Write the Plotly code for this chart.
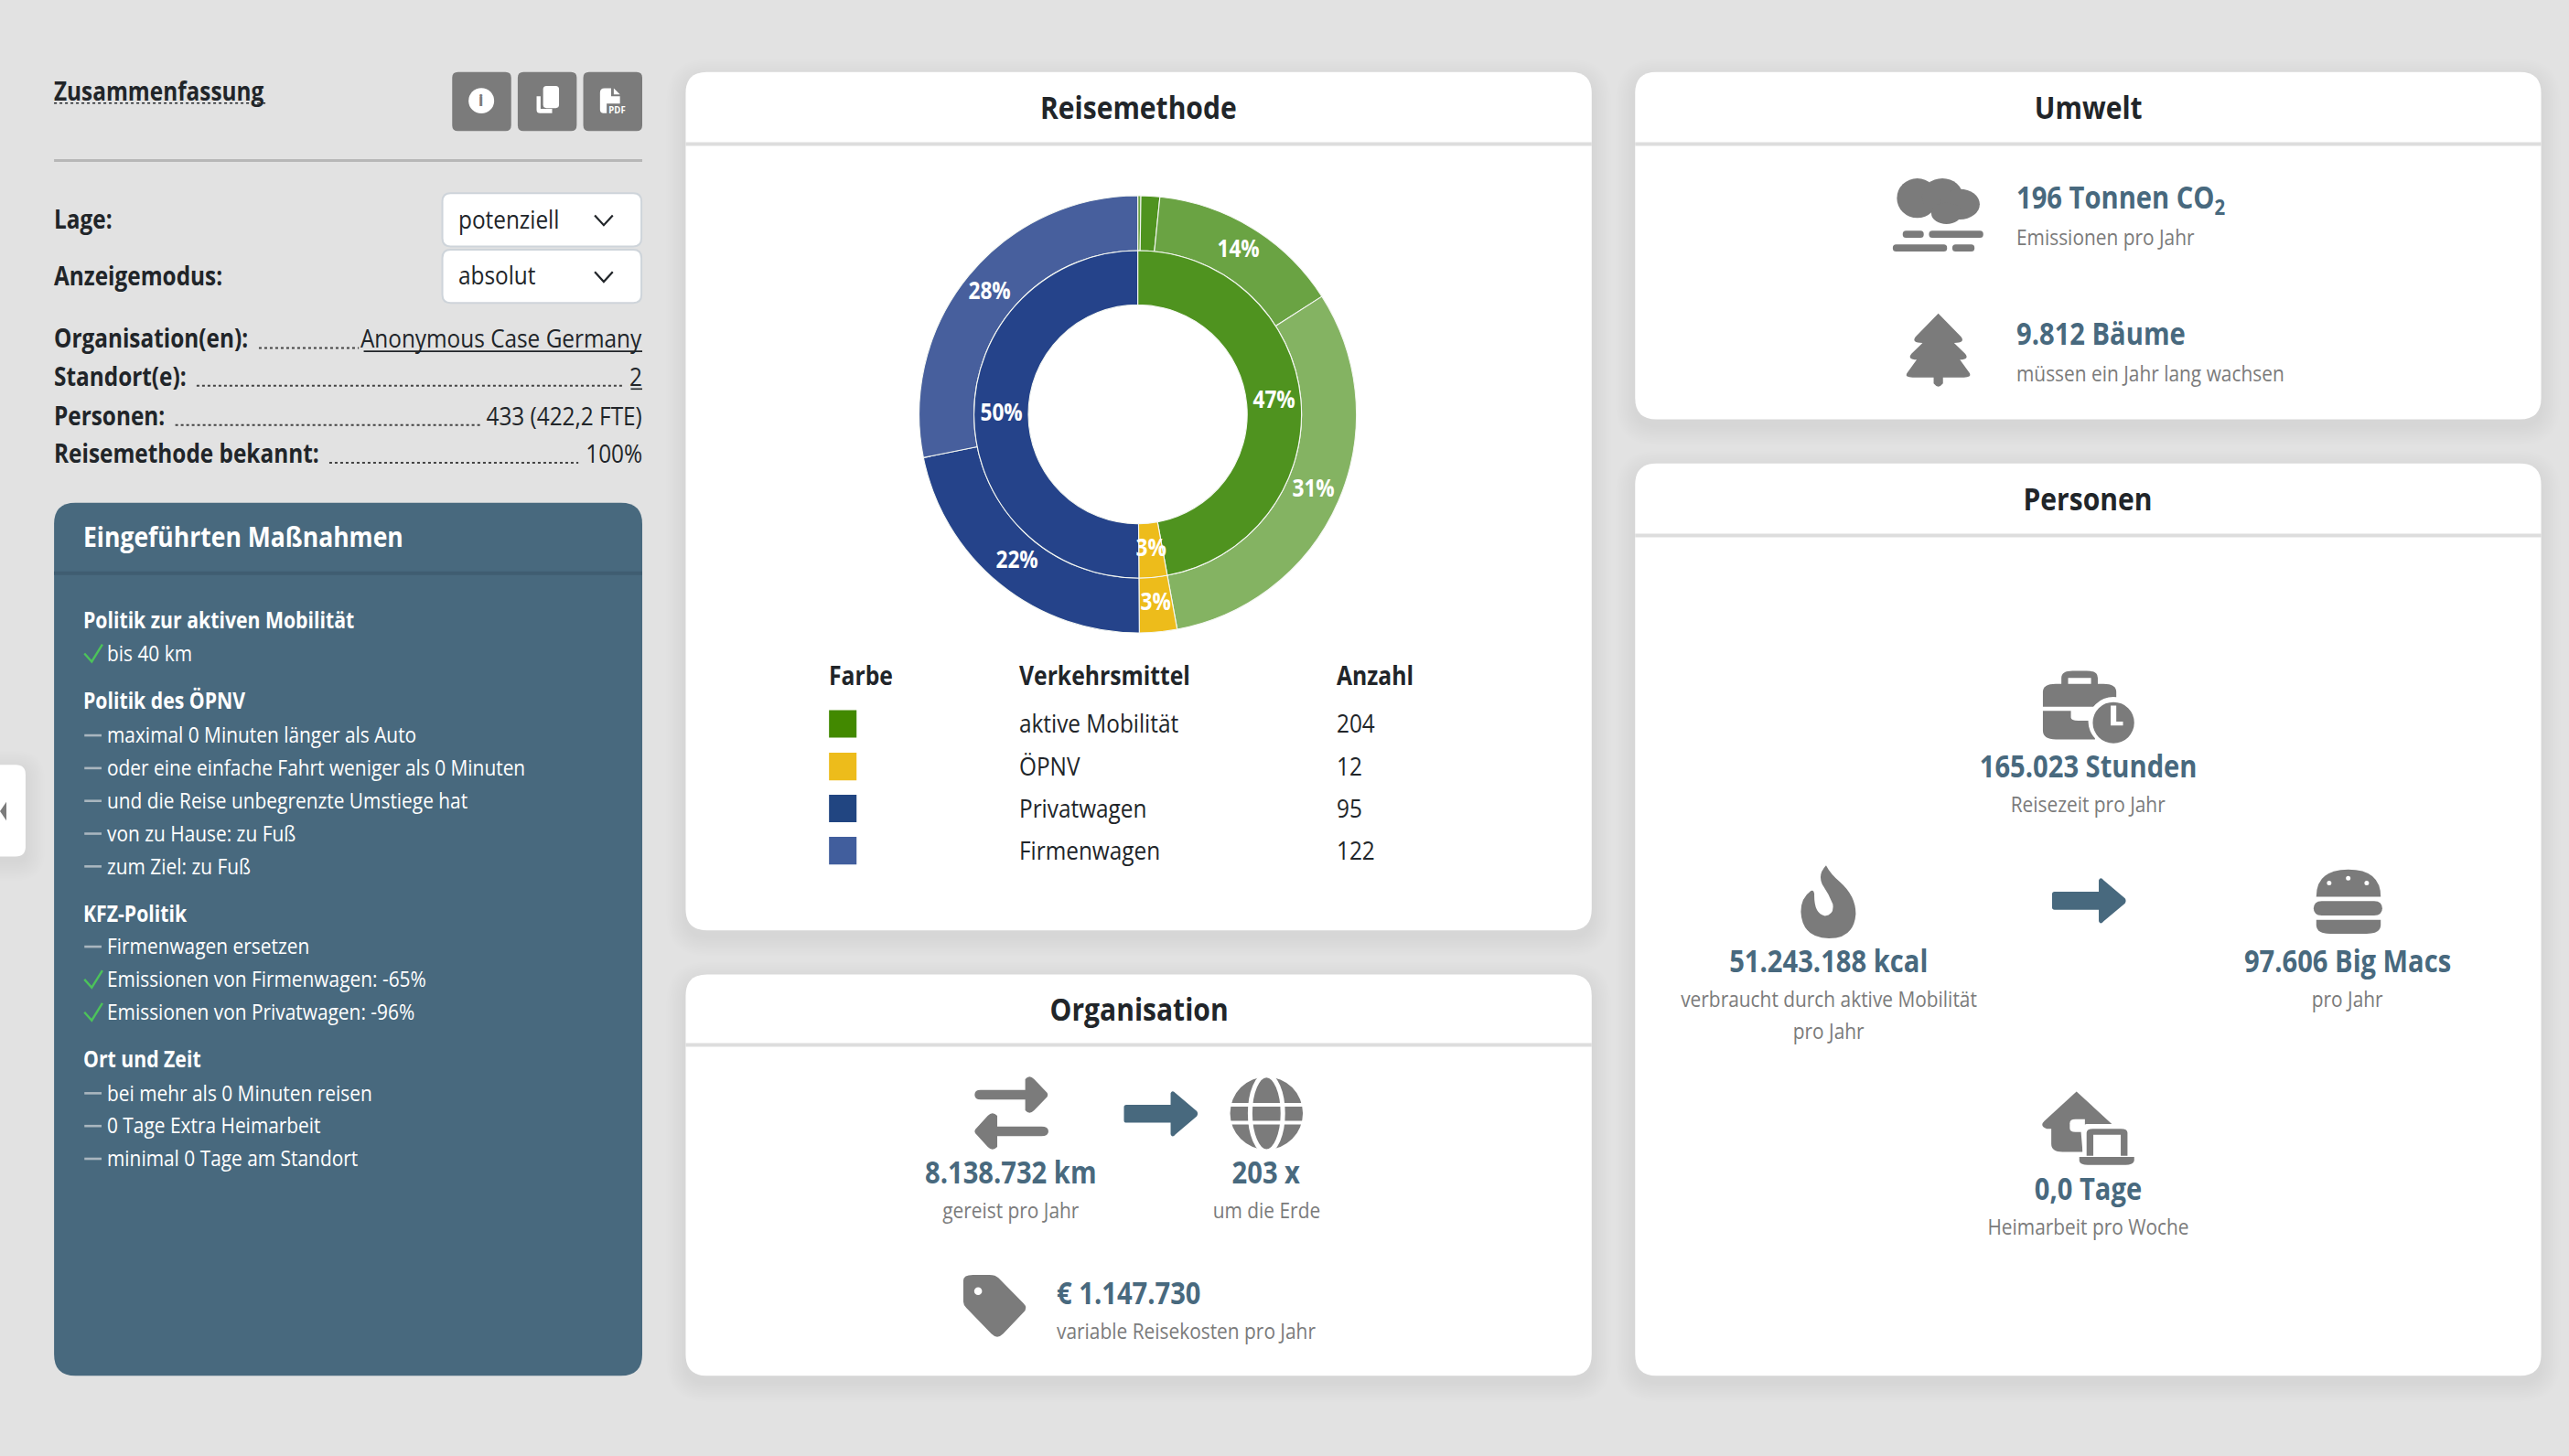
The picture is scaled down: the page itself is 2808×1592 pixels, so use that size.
import math
import re
import plotly.graph_objects as go

# chart values
modes = ["aktive Mobilität", "ÖPNV", "Privatwagen", "Firmenwagen"]
mode_counts = [204, 12, 95, 122]
mode_colors = ["#428900", "#edbc1b", "#214581", "#415e9d"]

inner_values = [204, 12, 217]
inner_colors = ["#4f931f", "#edbc1b", "#25438a"]
outer_values = [1, 6, 62, 135, 12, 95, 122]
outer_colors = ["#6aa343", "#4f931f", "#6aa343", "#84b362", "#edbc1b", "#25438a", "#475f9d"]

info_labels = ["Organisation(en):", "Standort(e):", "Personen:", "Reisemethode bekannt:"]
info_values = ["Anonymous Case Germany", "2", "433 (422,2 FTE)", "100%"]

panel_items = [
    ("h", "Politik zur aktiven Mobilität"), ("c", "bis 40 km"),
    ("h", "Politik des ÖPNV"), ("d", "maximal 0 Minuten länger als Auto"),
    ("d", "oder eine einfache Fahrt weniger als 0 Minuten"),
    ("d", "und die Reise unbegrenzte Umstiege hat"), ("d", "von zu Hause: zu Fuß"), ("d", "zum Ziel: zu Fuß"),
    ("h", "KFZ-Politik"), ("d", "Firmenwagen ersetzen"),
    ("c", "Emissionen von Firmenwagen: -65%"), ("c", "Emissionen von Privatwagen: -96%"),
    ("h", "Ort und Zeit"), ("d", "bei mehr als 0 Minuten reisen"),
    ("d", "0 Tage Extra Heimarbeit"), ("d", "minimal 0 Tage am Standort"),
]

W, H = 2808, 1592
S = W / 1568  # layout below is measured on the 1568 wide view
FONT = "Open Sans"
DARK = "#212529"
TEAL = "#48697e"
GREY = "#7b7b7b"
BG = "#e2e2e2"

shapes = []
notes = []


def px(x):
    return round(x * S / W, 6)


def py(y):
    return round(1 - y * S / H, 6)


def to_paper(path):
    return re.sub(r"(-?\d+\.?\d*),(-?\d+\.?\d*)",
                  lambda m: f"{px(float(m[1]))},{py(float(m[2]))}", path)


def from_zoom(path, ox, oy, sx, sy):
    # icon outlines were traced on zoomed crops
    return re.sub(r"(-?\d+\.?\d*),(-?\d+\.?\d*)",
                  lambda m: f"{(ox + float(m[1]) / sx) / S:.3f},{(oy + float(m[2]) / sy) / S:.3f}", path)


def add_path(path, fill=GREY, line=None, width=0, opacity=1):
    shapes.append(dict(type="path", xref="paper", yref="paper", path=to_paper(path),
                       fillcolor=fill, opacity=opacity,
                       line=dict(color=line or "rgba(0,0,0,0)", width=width), layer="below"))


def rr(x0, y0, x1, y1, r):
    return (f"M{x0 + r},{y0} L{x1 - r},{y0} Q{x1},{y0} {x1},{y0 + r} L{x1},{y1 - r} Q{x1},{y1} {x1 - r},{y1} "
            f"L{x0 + r},{y1} Q{x0},{y1} {x0},{y1 - r} L{x0},{y0 + r} Q{x0},{y0} {x0 + r},{y0} Z")


def box(x0, y0, x1, y1, r=0, fill=GREY, line=None, width=0):
    add_path(rr(x0, y0, x1, y1, r), fill, line, width)


def oval(cx, cy, rx, ry=None, fill=GREY):
    ry = ry or rx
    shapes.append(dict(type="circle", xref="paper", yref="paper", x0=px(cx - rx), x1=px(cx + rx),
                       y0=py(cy + ry), y1=py(cy - ry), fillcolor=fill, line=dict(width=0), layer="below"))


def stroke(x0, y0, x1, y1, color, width=2, dash="solid"):
    shapes.append(dict(type="line", xref="paper", yref="paper", x0=px(x0), x1=px(x1), y0=py(y0), y1=py(y1),
                       line=dict(color=color, width=width, dash=dash), layer="below"))


def text(x, y, s, size=24, color=DARK, weight=400, anchor="left"):
    notes.append(dict(x=px(x), y=py(y - 0.7), xref="paper", yref="paper", text=s, showarrow=False, xanchor=anchor,
                      yanchor="middle", borderpad=0, borderwidth=0,
                      font=dict(family=FONT, size=size, color=color, weight=weight)))


def card(x0, y0, x1, y1, title, head_y):
    for i in range(12, 0, -1):
        add_path(rr(x0 - i, y0 - i + 4, x1 + i, y1 + i + 4, 13 + i), "#000000", opacity=0.0045)
    box(x0, y0, x1, y1, 13, "#ffffff")
    stroke(x0, head_y, x1, head_y, "#dddddd", 4)
    text((x0 + x1) / 2, (y0 + head_y) / 2, title, 34.5, DARK, 700, "center")


def arrow(cx, cy):
    add_path(f"M{cx - 22.5},{cy - 4} Q{cx - 22.5},{cy - 5.5} {cx - 21},{cy - 5.5} L{cx + 6},{cy - 5.5} "
             f"L{cx + 6},{cy - 12.5} Q{cx + 7},{cy - 15} {cx + 9},{cy - 12.5} L{cx + 22},{cy - 1.5} "
             f"Q{cx + 23},{cy} {cx + 22},{cy + 1.5} L{cx + 9},{cy + 12.5} Q{cx + 7},{cy + 15} {cx + 6},{cy + 12.5} "
             f"L{cx + 6},{cy + 5.5} L{cx - 21},{cy + 5.5} Q{cx - 22.5},{cy + 5.5} {cx - 22.5},{cy + 4} Z", TEAL)


def stat(x, y_val, y_sub, value, sub, anchor="center"):
    text(x, y_val, value, 33.5, TEAL, 700, anchor)
    text(x, y_sub, sub, 24, GREY, 400, anchor)


# side tab
for i in range(12, 0, -1):
    add_path(rr(-20, 467 - i + 3, 15.6 + i, 523 + i + 3, 6 + i), "#000000", opacity=0.0045)
box(-20, 467, 15.6, 523, 6, "#ffffff")
add_path("M0,495.3 L3.9,489.6 L3.9,501 Z")

# left column
text(33, 56, "Zusammenfassung", 28, DARK, 700)
stroke(33, 63, 162, 63, DARK, 1.5, "dot")
for x0 in (276, 316, 356):
    box(x0, 44, x0 + 36, 80, 3.5)
zoom1 = (0, 40, 2.063, 2.529)
oval(293.8, 61.5, 7.8, fill="#ffffff")
text(293.8, 62, "i", 17, GREY, 800, "center")
box(331.5, 52.5, 341.2, 66, 2, "#ffffff")
add_path(from_zoom("M1210,165 L1219,165 L1219,200 L1245,200 L1245,212 L1218,212 Q1210,212 1210,203 Z", *zoom1), "#ffffff")
add_path(from_zoom("M1353,155 Q1353,143 1363,143 L1378,143 L1378,165 L1398,165 L1398,185 L1368,185 L1368,212 "
                   "L1361,212 Q1353,212 1353,202 Z", *zoom1), "#ffffff")
add_path(from_zoom("M1384,143 L1398,160 L1384,160 Z", *zoom1), "#ffffff")
text(376.4, 67.7, "PDF", 11, "#ffffff", 700, "center")
stroke(33, 98, 392, 98, "#b7b7b7", 3)

text(33, 134, "Lage:", 28, DARK, 700)
text(33, 169, "Anzeigemodus:", 28, DARK, 700)
for y0, val in ((118, "potenziell"), (152.5, "absolut")):
    box(270, y0, 391.5, y0 + 32.5, 5, "#ffffff", "#ced4da", 2)
    text(279.5, y0 + 16, val, 28, DARK, 400)
    cx, cy = 368.5, y0 + 16.5
    add_path(f"M{cx - 5.5},{cy - 3} L{cx},{cy + 3} L{cx + 5.5},{cy - 3}", "rgba(0,0,0,0)", DARK, 2.2)

row_y = [207, 230, 254, 277]
dots_x = [(158, 219), (120, 381), (107, 293), (201, 353)]
for lab, val, y, (d0, d1) in zip(info_labels, info_values, row_y, dots_x):
    text(33, y, lab, 28, DARK, 700)
    text(392, y, val, 28, DARK, 400, "right")
    stroke(d0, y + 5.5, d1, y + 5.5, "#444444", 2, "dot")
stroke(222, 214.5, 392, 214.5, DARK, 1.6)
stroke(385, 237.5, 392, 237.5, DARK, 1.6)

# measures panel
box(33, 307, 392, 840, 13, TEAL)
stroke(33, 350, 392, 350, "#3f5d71", 4)
text(51, 328, "Eingeführten Maßnahmen", 30.5, "#ffffff", 700)
panel_y = [379, 399, 428, 449, 469, 489, 509, 529, 558, 578, 598, 618, 647, 667.5, 687.5, 707.5]
for (kind, label), y in zip(panel_items, panel_y):
    if kind == "h":
        text(51, y, label, 24.4, "#ffffff", 700)
        continue
    text(65.5, y, label, 24, "#ffffff", 400)
    if kind == "c":
        add_path(f"M51.5,{y} L56,{y + 5} L62.5,{y - 5.5}", "rgba(0,0,0,0)", "#4cc35a", 2.4)
    else:
        stroke(51.5, y, 62, y, "#a9b6bf", 2.6)

# Reisemethode card with the nested donut
card(418.5, 44, 971.5, 568, "Reisemethode", 88)
DCX, DCY = 1243.6, 453.0  # donut centre in page pixels
R_OUT, R_MID, R_HOLE = 239.0, 179.0, 119.6
total = sum(inner_values)


def domain(r):
    return dict(x=[(DCX - r) / W, (DCX + r) / W], y=[1 - (DCY + r) / H, 1 - (DCY - r) / H])


pie_line = dict(color="#f4f7f2", width=1.1)
traces = [
    go.Pie(values=outer_values, sort=False, direction="clockwise", rotation=0, hole=R_MID / R_OUT,
           domain=domain(R_OUT), marker=dict(colors=outer_colors, line=pie_line), textinfo="none", showlegend=False),
    go.Pie(values=inner_values, sort=False, direction="clockwise", rotation=0, hole=R_HOLE / R_MID,
           domain=domain(R_MID), marker=dict(colors=inner_colors, line=pie_line), textinfo="none", showlegend=False),
]
for values, radius in ((outer_values, (R_OUT + R_MID) / 2), (inner_values, (R_MID + R_HOLE) / 2)):
    done = 0
    for v in values:
        mid = (done + v / 2) / total * 2 * math.pi
        done += v
        if v / total < 0.02:
            continue
        text((DCX + radius * math.sin(mid)) / S, (DCY - radius * math.cos(mid)) / S - 1.4,
             f"{round(v / total * 100)}%", 26, "#ffffff", 700, "center")

text(506, 413, "Farbe", 28.4, DARK, 700)
text(622, 413, "Verkehrsmittel", 28.4, DARK, 700)
text(816, 413, "Anzahl", 28.4, DARK, 700)
legend_y = [442, 468, 493.6, 519.4]
for name, count, color, y in zip(modes, mode_counts, mode_colors, legend_y):
    box(506, y - 8.4, 522.8, y + 8.4, 0, color)
    text(622, y, name, 28, DARK, 400)
    text(816, y, str(count), 28, DARK, 400)

# Organisation card
card(418.5, 595, 971.5, 840, "Organisation", 638)
zoom3 = (740, 1060, 1.537, 3)
add_path(from_zoom("M510,395 L585,395 L585,360 Q592,343 600,360 L622,405 Q624,412 622,418 L600,462 Q592,478 585,462 "
                   "L585,427 L510,427 Q500,427 500,411 Q500,395 510,395 Z", *zoom3))
add_path(from_zoom("M612,515 L538,515 L538,480 Q530,463 522,480 L501,525 Q499,531 501,537 L522,582 Q530,598 538,582 "
                   "L538,547 L612,547 Q624,547 624,531 Q624,515 612,515 Z", *zoom3))
arrow(708.5, 680)
oval(773, 679.7, 22.2)
shapes.append(dict(type="circle", xref="paper", yref="paper", x0=px(773 - 10), x1=px(773 + 10), y0=py(703),
                   y1=py(656.5), fillcolor="rgba(0,0,0,0)", line=dict(color="#ffffff", width=5), layer="below"))
stroke(750, 674.5, 796, 674.5, "#ffffff", 4)
stroke(750, 685.5, 796, 685.5, "#ffffff", 4)
stat(617, 716, 739, "8.138.732 km", "gereist pro Jahr")
stat(773, 716, 739, "203 x", "um die Erde")
add_path(from_zoom("M481,1020 Q481,1002 497,1002 L525,1002 Q535,1002 540,1012 L582,1095 Q590,1110 582,1125 L548,1195 "
                   "Q538,1215 528,1195 L486,1110 Q481,1100 481,1090 Z", *zoom3))
oval(597, 788.3, 2.4, fill="#ffffff")
stat(645, 790, 813, "€ 1.147.730", "variable Reisekosten pro Jahr", "left")

# Umwelt card
card(998, 44, 1551, 256, "Umwelt", 88)
zoom4 = (1780, 70, 1.568, 3)
for cx, cy, rx, ry in ((495, 440, 35, 65), (538, 435, 35, 60), (568, 460, 34, 50), (545, 490, 26, 35)):
    oval((zoom4[0] + cx / zoom4[2]) / S, (zoom4[1] + cy / zoom4[3]) / S, rx / zoom4[2] / S, ry / zoom4[3] / S)
for zx0, zy0, zx1, zy1 in ((470, 547, 506, 570), (515, 547, 608, 570), (453, 592, 546, 615), (555, 592, 593, 615)):
    box((1780 + zx0 / 1.568) / S, (70 + zy0 / 3) / S, (1780 + zx1 / 1.568) / S, (70 + zy1 / 3) / S, 2)
add_path(from_zoom("M531,818 L570,895 Q578,915 558,915 L577,950 Q585,968 568,970 L585,1015 Q588,1028 575,1028 L539,1028 "
                   "L539,1048 Q531,1068 523,1048 L523,1028 L487,1028 Q473,1028 477,1015 L494,970 Q477,968 485,950 "
                   "L504,915 Q484,915 492,895 Z", *zoom4))
stat(1231, 122, 145, "196 Tonnen CO<sub>2</sub>", "Emissionen pro Jahr", "left")
stat(1231, 204, 228, "9.812 Bäume", "müssen ein Jahr lang wachsen", "left")

# Personen card
card(998, 283, 1551, 840, "Personen", 327)
zoom5 = (1800, 700, 1.633, 2.306)


def z5x(v):
    return (zoom5[0] + v / zoom5[2]) / S


def z5y(v):
    return (zoom5[1] + v / zoom5[3]) / S


add_path(from_zoom("M707,168 L707,130 Q707,110 730,110 L815,110 Q838,110 838,130 L838,168 Z", *zoom5))
add_path(from_zoom("M740,112 L740,95 Q740,77 760,77 L785,77 Q805,77 805,95 L805,112 L793,112 L793,95 L752,95 L752,112 Z", *zoom5))
add_path(from_zoom("M707,178 L757,178 L757,195 Q757,203 770,203 L800,203 L800,250 L730,250 Q707,250 707,228 Z", *zoom5))
oval(z5x(833), z5y(205), 45 / zoom5[2] / S, 62 / zoom5[3] / S, "#ffffff")
oval(z5x(833), z5y(208), 37 / zoom5[2] / S, 52 / zoom5[3] / S)
add_path(from_zoom("M828,165 L838,165 L838,205 L850,205 L850,215 L828,215 Z", *zoom5), "#ffffff")
stat(1274.5, 468, 491, "165.023 Stunden", "Reisezeit pro Jahr")

add_path(from_zoom("M320,568 Q328,590 345,610 Q373,645 373,690 Q370,752 325,752 Q277,750 275,685 Q275,650 293,632 "
                   "Q298,628 299,640 Q298,690 318,695 Q335,692 332,665 Q325,640 313,615 Q305,590 320,568 Z", *zoom5))
stat(1116, 587, 610, "51.243.188 kcal", "verbraucht durch aktive Mobilität")
text(1116, 630, "pro Jahr", 24, GREY, 400, "center")

arrow(1275, 550)

add_path(from_zoom("M1195,647 Q1195,578 1252,578 Q1310,578 1310,647 Z", *zoom5))
for zx, zy in ((1218, 612), (1252, 600), (1285, 612)):
    oval(z5x(zx), z5y(zy), 1.4, fill="#ffffff")
box(z5x(1190), z5y(658), z5x(1313), z5y(694), 5)
add_path(from_zoom("M1195,705 L1310,705 L1310,718 Q1310,740 1285,740 L1220,740 Q1195,740 1195,718 Z", *zoom5))
stat(1433, 587, 610, "97.606 Big Macs", "pro Jahr")

add_path(from_zoom("M767,1138 L830,1220 L785,1220 Q775,1222 775,1240 L778,1290 L742,1290 Q722,1290 722,1270 L722,1232 "
                   "L714,1232 Q700,1225 710,1212 Z", *zoom5))
add_path(from_zoom("M755,1218 Q755,1208 765,1208 L782,1208 L782,1240 L765,1240 Q755,1240 755,1230 Z", *zoom5), "#ffffff")
box(z5x(778), z5y(1222), z5x(866), z5y(1312), 3, "#ffffff")
add_path(from_zoom("M785,1300 L785,1242 Q785,1232 797,1232 L846,1232 Q858,1232 858,1242 L858,1300 L846,1300 L846,1247 L797,1247 L797,1300 Z", *zoom5))
add_path(from_zoom("M772,1303 L870,1303 L870,1312 Q868,1323 855,1323 L787,1323 Q773,1323 772,1312 Z", *zoom5))
stat(1274.5, 726, 749, "0,0 Tage", "Heimarbeit pro Woche")

fig = go.Figure(traces)
fig.update_layout(width=W, height=H, margin=dict(l=0, r=0, t=0, b=0), autosize=False, paper_bgcolor=BG,
                  plot_bgcolor=BG, shapes=shapes, annotations=notes, font=dict(family=FONT), showlegend=False)

# the reference text is set narrower than Open Sans, so squeeze it horizontally
squeeze = """
document.body.style.margin = '0';
var gd = document.getElementById('{plot_id}'), k = 0.87;
gd.querySelectorAll('.annotation').forEach(function (g) {
  var t = g.querySelector('.annotation-text'), a = gd.layout.annotations[+g.getAttribute('data-index')];
  var w = t.getComputedTextLength();
  t.setAttribute('textLength', w * k);
  t.setAttribute('lengthAdjust', 'spacingAndGlyphs');
  var d = a.xanchor == 'left' ? -w * (1 - k) / 2 : a.xanchor == 'right' ? w * (1 - k) / 2 : 0;
  t.setAttribute('x', +t.getAttribute('x') + d);
});
"""
fig.write_html("out.html", config=dict(displayModeBar=False), post_script=squeeze)
